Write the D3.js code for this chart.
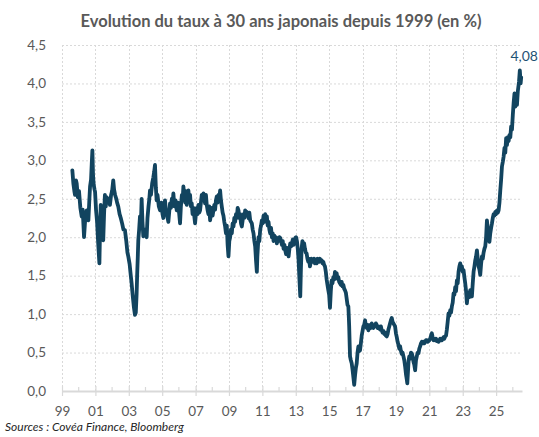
<!DOCTYPE html>
<html>
<head>
<meta charset="utf-8">
<script src="https://cdn.jsdelivr.net/npm/d3@7"></script>
<style>
  body { margin: 0; background: #fff; }
  svg { display: block; font-family: Lato, "Open Sans", sans-serif; }
</style>
</head>
<body>
<svg id="chart" width="539" height="437"></svg>
<script>
// Japanese 30y yield as [decimal year, rate %]
const rateSeries = [
  [1999.62,2.87],[1999.68,2.70],[1999.74,2.60],[1999.78,2.55],[1999.84,2.74],[1999.88,2.70],[1999.95,2.52],
  [2000.02,2.60],[2000.10,2.38],[2000.18,2.27],[2000.24,2.36],[2000.32,2.00],[2000.38,2.20],[2000.44,2.30],
  [2000.48,2.35],[2000.53,2.25],[2000.58,2.22],[2000.63,2.45],[2000.68,2.66],[2000.74,2.75],[2000.78,2.95],
  [2000.82,3.13],[2000.86,2.80],[2000.90,2.68],[2000.95,2.62],[2000.98,2.59],[2001.04,2.35],[2001.10,2.20],
  [2001.16,1.95],[2001.20,1.80],[2001.24,1.66],[2001.28,2.10],[2001.32,2.42],[2001.37,2.20],[2001.42,2.05],
  [2001.47,1.96],[2001.52,2.30],[2001.57,2.55],[2001.62,2.40],[2001.67,2.52],[2001.72,2.45],[2001.80,2.50],
  [2001.87,2.42],[2001.94,2.55],[2002.00,2.60],[2002.07,2.74],[2002.12,2.62],[2002.18,2.55],[2002.25,2.50],
  [2002.30,2.45],[2002.37,2.40],[2002.45,2.30],[2002.52,2.25],[2002.60,2.18],[2002.68,2.10],[2002.77,2.09],
  [2002.85,1.95],[2002.92,1.80],[2002.97,1.75],[2003.05,1.65],[2003.12,1.50],[2003.17,1.40],[2003.23,1.25],
  [2003.30,1.10],[2003.37,0.99],[2003.42,1.02],[2003.47,1.27],[2003.50,1.50],[2003.54,1.75],[2003.57,1.96],
  [2003.62,2.10],[2003.67,2.27],[2003.72,2.15],[2003.77,2.50],[2003.82,2.20],[2003.87,2.01],[2003.95,2.10],
  [2004.02,2.05],[2004.07,2.00],[2004.12,2.25],[2004.18,2.40],[2004.23,2.50],[2004.27,2.61],[2004.33,2.55],
  [2004.40,2.70],[2004.47,2.78],[2004.52,2.85],[2004.57,2.94],[2004.62,2.65],[2004.67,2.48],[2004.72,2.55],
  [2004.80,2.40],[2004.87,2.35],[2004.95,2.45],[2005.02,2.30],[2005.07,2.25],[2005.12,2.38],[2005.17,2.48],
  [2005.22,2.35],[2005.30,2.28],[2005.37,2.20],[2005.43,2.35],[2005.47,2.44],[2005.52,2.38],[2005.58,2.50],
  [2005.63,2.45],[2005.67,2.57],[2005.73,2.40],[2005.80,2.48],[2005.87,2.35],[2005.95,2.45],[2006.02,2.30],
  [2006.07,2.18],[2006.12,2.40],[2006.18,2.55],[2006.23,2.50],[2006.27,2.66],[2006.32,2.55],[2006.38,2.45],
  [2006.42,2.60],[2006.47,2.42],[2006.52,2.50],[2006.57,2.61],[2006.62,2.48],[2006.67,2.55],[2006.72,2.40],
  [2006.77,2.44],[2006.82,2.30],[2006.87,2.38],[2006.92,2.28],[2006.97,2.18],[2007.02,2.30],[2007.07,2.38],
  [2007.12,2.30],[2007.17,2.42],[2007.22,2.32],[2007.27,2.35],[2007.32,2.45],[2007.37,2.55],[2007.42,2.48],
  [2007.47,2.57],[2007.52,2.50],[2007.57,2.44],[2007.62,2.55],[2007.67,2.42],[2007.72,2.35],[2007.77,2.30],
  [2007.82,2.40],[2007.87,2.22],[2007.92,2.30],[2007.97,2.38],[2008.02,2.28],[2008.07,2.35],[2008.12,2.42],
  [2008.17,2.36],[2008.22,2.48],[2008.27,2.53],[2008.32,2.45],[2008.37,2.55],[2008.42,2.50],[2008.47,2.61],
  [2008.52,2.48],[2008.57,2.40],[2008.62,2.32],[2008.67,2.28],[2008.72,2.20],[2008.77,2.14],[2008.82,2.05],
  [2008.87,2.15],[2008.92,1.90],[2008.97,1.75],[2009.02,1.95],[2009.07,2.00],[2009.12,2.10],[2009.17,2.05],
  [2009.22,2.18],[2009.27,2.14],[2009.32,2.25],[2009.37,2.20],[2009.42,2.30],[2009.47,2.25],[2009.52,2.38],
  [2009.57,2.35],[2009.62,2.25],[2009.67,2.30],[2009.72,2.18],[2009.77,2.14],[2009.82,2.22],[2009.87,2.30],
  [2009.92,2.25],[2009.97,2.35],[2010.02,2.28],[2010.07,2.33],[2010.12,2.30],[2010.17,2.25],[2010.22,2.32],
  [2010.27,2.22],[2010.32,2.20],[2010.37,2.18],[2010.42,2.10],[2010.47,2.05],[2010.52,1.95],[2010.57,1.88],
  [2010.62,1.70],[2010.67,1.55],[2010.70,1.75],[2010.74,1.90],[2010.77,2.00],[2010.82,1.95],[2010.87,2.10],
  [2010.92,2.15],[2010.97,2.22],[2011.02,2.18],[2011.07,2.28],[2011.12,2.20],[2011.17,2.30],[2011.22,2.22],
  [2011.27,2.27],[2011.32,2.15],[2011.37,2.20],[2011.42,2.10],[2011.47,2.05],[2011.52,2.12],[2011.57,2.00],
  [2011.62,2.05],[2011.67,1.95],[2011.72,2.02],[2011.77,1.96],[2011.82,2.00],[2011.87,1.92],[2011.92,1.98],
  [2011.97,1.95],[2012.02,2.00],[2012.07,1.99],[2012.12,1.95],[2012.17,1.90],[2012.22,1.95],[2012.27,1.85],
  [2012.32,1.90],[2012.37,1.83],[2012.42,1.78],[2012.47,1.86],[2012.52,1.80],[2012.57,1.75],[2012.62,1.85],
  [2012.67,1.92],[2012.72,1.88],[2012.77,1.92],[2012.82,1.97],[2012.87,1.90],[2012.92,1.95],[2012.97,1.99],
  [2013.02,2.00],[2013.07,1.95],[2013.12,1.85],[2013.17,1.70],[2013.22,1.45],[2013.27,1.23],[2013.31,1.60],
  [2013.35,1.85],[2013.40,1.95],[2013.45,1.88],[2013.50,1.92],[2013.55,1.85],[2013.60,1.80],[2013.65,1.79],
  [2013.70,1.72],[2013.75,1.68],[2013.80,1.72],[2013.85,1.62],[2013.90,1.68],[2013.95,1.72],[2014.00,1.68],
  [2014.05,1.70],[2014.10,1.72],[2014.15,1.66],[2014.20,1.70],[2014.25,1.66],[2014.30,1.72],[2014.35,1.70],
  [2014.40,1.68],[2014.45,1.72],[2014.50,1.69],[2014.55,1.70],[2014.60,1.66],[2014.65,1.68],[2014.70,1.64],
  [2014.75,1.62],[2014.80,1.55],[2014.85,1.45],[2014.90,1.38],[2014.95,1.31],[2015.00,1.25],[2015.05,1.08],
  [2015.10,1.30],[2015.15,1.44],[2015.20,1.40],[2015.25,1.48],[2015.30,1.45],[2015.35,1.55],[2015.40,1.50],
  [2015.45,1.53],[2015.50,1.46],[2015.55,1.48],[2015.60,1.42],[2015.65,1.40],[2015.70,1.38],[2015.75,1.42],
  [2015.80,1.36],[2015.85,1.38],[2015.90,1.33],[2015.95,1.31],[2016.00,1.28],[2016.05,1.20],[2016.10,1.12],
  [2016.15,1.10],[2016.18,0.95],[2016.20,0.84],[2016.23,0.60],[2016.25,0.45],[2016.30,0.40],[2016.35,0.36],
  [2016.40,0.28],[2016.45,0.18],[2016.50,0.08],[2016.55,0.20],[2016.60,0.30],[2016.65,0.36],[2016.70,0.50],
  [2016.75,0.58],[2016.80,0.52],[2016.85,0.53],[2016.90,0.62],[2016.95,0.72],[2017.00,0.78],[2017.05,0.84],
  [2017.10,0.86],[2017.15,0.92],[2017.20,0.85],[2017.25,0.82],[2017.30,0.86],[2017.35,0.79],[2017.40,0.84],
  [2017.45,0.86],[2017.50,0.82],[2017.55,0.88],[2017.60,0.85],[2017.65,0.82],[2017.70,0.86],[2017.75,0.84],
  [2017.80,0.88],[2017.85,0.86],[2017.90,0.82],[2017.95,0.84],[2018.00,0.82],[2018.05,0.80],[2018.10,0.84],
  [2018.15,0.79],[2018.20,0.76],[2018.25,0.78],[2018.30,0.74],[2018.35,0.76],[2018.40,0.72],[2018.45,0.71],
  [2018.50,0.74],[2018.55,0.80],[2018.60,0.84],[2018.65,0.88],[2018.70,0.92],[2018.75,0.95],[2018.80,0.90],
  [2018.85,0.88],[2018.90,0.86],[2018.95,0.84],[2019.00,0.75],[2019.05,0.70],[2019.10,0.64],[2019.15,0.60],
  [2019.20,0.55],[2019.25,0.58],[2019.30,0.52],[2019.35,0.48],[2019.40,0.50],[2019.45,0.45],[2019.50,0.40],
  [2019.55,0.32],[2019.60,0.22],[2019.65,0.15],[2019.68,0.10],[2019.72,0.25],[2019.76,0.40],[2019.80,0.45],
  [2019.85,0.42],[2019.90,0.50],[2019.95,0.49],[2020.00,0.45],[2020.05,0.38],[2020.10,0.34],[2020.15,0.27],
  [2020.20,0.40],[2020.25,0.45],[2020.30,0.50],[2020.35,0.49],[2020.40,0.55],[2020.45,0.58],[2020.50,0.62],
  [2020.55,0.64],[2020.60,0.62],[2020.65,0.64],[2020.70,0.62],[2020.75,0.64],[2020.80,0.66],[2020.85,0.66],
  [2020.90,0.64],[2020.95,0.65],[2021.00,0.66],[2021.05,0.68],[2021.10,0.72],[2021.15,0.75],[2021.20,0.70],
  [2021.25,0.66],[2021.30,0.68],[2021.35,0.66],[2021.40,0.68],[2021.45,0.65],[2021.50,0.66],[2021.55,0.64],
  [2021.60,0.66],[2021.65,0.68],[2021.70,0.66],[2021.75,0.66],[2021.80,0.68],[2021.85,0.70],[2021.90,0.68],
  [2021.95,0.71],[2022.00,0.72],[2022.05,0.80],[2022.10,0.90],[2022.15,1.01],[2022.20,0.98],[2022.25,1.05],
  [2022.30,1.02],[2022.35,1.10],[2022.40,1.15],[2022.45,1.27],[2022.50,1.25],[2022.55,1.35],[2022.60,1.30],
  [2022.65,1.44],[2022.70,1.40],[2022.75,1.55],[2022.80,1.62],[2022.85,1.66],[2022.90,1.58],[2022.95,1.62],
  [2023.00,1.55],[2023.05,1.57],[2023.10,1.48],[2023.15,1.40],[2023.20,1.30],[2023.25,1.14],[2023.30,1.25],
  [2023.35,1.28],[2023.40,1.22],[2023.45,1.31],[2023.50,1.25],[2023.55,1.23],[2023.60,1.40],[2023.65,1.55],
  [2023.70,1.62],[2023.75,1.70],[2023.80,1.75],[2023.85,1.83],[2023.90,1.72],[2023.95,1.62],[2024.00,1.58],
  [2024.05,1.51],[2024.10,1.65],[2024.15,1.75],[2024.20,1.72],[2024.25,1.80],[2024.30,1.85],[2024.35,1.88],
  [2024.40,2.00],[2024.45,2.22],[2024.50,2.10],[2024.55,2.05],[2024.60,1.94],[2024.65,2.05],[2024.70,2.12],
  [2024.75,2.18],[2024.80,2.25],[2024.85,2.30],[2024.90,2.28],[2024.95,2.33],[2025.00,2.30],[2025.05,2.35],
  [2025.10,2.32],[2025.15,2.35],[2025.20,2.45],[2025.25,2.61],[2025.30,2.75],[2025.35,2.92],[2025.40,2.98],
  [2025.45,3.05],[2025.50,3.16],[2025.55,3.10],[2025.60,3.29],[2025.65,3.20],[2025.70,3.30],[2025.75,3.25],
  [2025.80,3.33],[2025.85,3.30],[2025.90,3.44],[2025.95,3.40],[2026.00,3.59],[2026.05,3.75],[2026.10,3.87],
  [2026.15,3.70],[2026.20,3.80],[2026.25,3.72],[2026.30,3.90],[2026.37,4.02],[2026.42,4.17],[2026.47,4.00],
  [2026.50,4.08]
];

const yTicks = [0, 0.5, 1, 1.5, 2, 2.5, 3, 3.5, 4, 4.5];
const xLabelYears = [1999, 2001, 2003, 2005, 2007, 2009, 2011, 2013, 2015, 2017, 2019, 2021, 2023, 2025];
const xMinorYears = [2000, 2002, 2004, 2006, 2008, 2010, 2012, 2014, 2016, 2018, 2020, 2022, 2024, 2026];
const lastValue = 4.08;

const title = "Evolution du taux à 30 ans japonais depuis 1999 (en %)";
const source = "Sources : Covéa Finance, Bloomberg";

const svg = d3.select("#chart");
const grey = "#d9d9d9";
const textGrey = "#595959";
const lineColor = "#12445f";

const x = d3.scaleLinear().domain([1999, 2026.55]).range([62, 522]);
const y = d3.scaleLinear().domain([0, 4.5]).range([391, 45]);
const comma1 = v => d3.format(".1f")(v).replace(".", ",");
const comma2 = v => d3.format(".2f")(v).replace(".", ",");

// title
const t = svg.append("text")
  .attr("x", 281).attr("y", 27)
  .attr("text-anchor", "middle")
  .attr("font-size", 16.5).attr("font-weight", "bold")
  .attr("fill", textGrey)
  .text(title);
if (Math.abs(t.node().getComputedTextLength() - 397) > 8) {
  t.attr("textLength", 397).attr("lengthAdjust", "spacingAndGlyphs");
}

// gridlines
svg.append("g").selectAll("line")
  .data(yTicks.filter(d => d > 0))
  .join("line")
  .attr("x1", x.range()[0]).attr("x2", x.range()[1])
  .attr("y1", d => y(d) + 0.5).attr("y2", d => y(d) + 0.5)
  .attr("stroke", grey).attr("stroke-dasharray", "2,2");

svg.append("g").selectAll("line")
  .data(xLabelYears)
  .join("line")
  .attr("x1", d => Math.round(x(d)) + 0.5).attr("x2", d => Math.round(x(d)) + 0.5)
  .attr("y1", y(4.5)).attr("y2", y(0))
  .attr("stroke", grey).attr("stroke-dasharray", "2,2");

// y labels
svg.append("g").selectAll("text")
  .data(yTicks)
  .join("text")
  .attr("x", 46).attr("y", d => y(d))
  .attr("dy", "0.35em")
  .attr("text-anchor", "end")
  .attr("font-size", 13.5)
  .attr("fill", textGrey)
  .text(comma1);

// x axis
const xAxis = d3.axisBottom(x)
  .tickValues(xLabelYears)
  .tickSizeInner(5).tickSizeOuter(0)
  .tickPadding(10)
  .tickFormat(d => String(d).slice(2));

const gx = svg.append("g")
  .attr("transform", `translate(0,${y(0)})`)
  .call(xAxis);
gx.select(".domain").attr("stroke", grey).attr("stroke-width", 2);
gx.selectAll(".tick line").attr("stroke", grey).attr("y1", -5).attr("stroke-width", 1.2);
gx.selectAll(".tick text")
  .attr("font-family", "Lato, 'Open Sans', sans-serif")
  .attr("font-size", 13.5).attr("fill", textGrey);

gx.append("g").selectAll("line")
  .data(xMinorYears)
  .join("line")
  .attr("x1", d => x(d)).attr("x2", d => x(d))
  .attr("y1", -4).attr("y2", 0)
  .attr("stroke", grey).attr("stroke-width", 1.2);

// series
const line = d3.line()
  .x(d => x(d[0]))
  .y(d => y(d[1]));

svg.append("path")
  .datum(rateSeries)
  .attr("fill", "none")
  .attr("stroke", lineColor)
  .attr("stroke-width", 3.8)
  .attr("stroke-linejoin", "round")
  .attr("stroke-linecap", "round")
  .attr("d", line);

// last value label
svg.append("text")
  .attr("x", 538).attr("y", 61)
  .attr("text-anchor", "end")
  .attr("font-size", 14)
  .attr("fill", "#1f5274")
  .text(comma2(lastValue));

// source
svg.append("text")
  .attr("x", 5).attr("y", 431)
  .attr("font-size", 12).attr("font-style", "italic")
  .attr("fill", "#262626")
  .text(source);
</script>
</body>
</html>
